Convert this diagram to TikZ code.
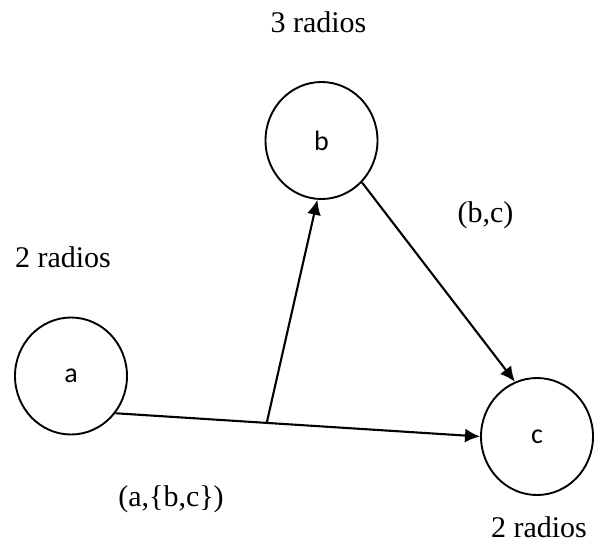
\documentclass[tikz,border=0pt]{standalone}
\usepackage{fontspec}
\setmainfont{Liberation Serif}
\newfontfamily\nodefont{Carlito}
\usetikzlibrary{positioning,arrows.meta,shapes.geometric,calc}

\begin{document}
\begin{tikzpicture}[x=1pt, y=-1pt,
  radio/.style={draw, ellipse, line width=1.9pt, minimum width=112pt,
                minimum height=117pt, inner sep=0pt, font=\nodefont\fontsize{28}{32}\selectfont},
  arr/.style={-{Latex[length=15pt,width=14pt]}, line width=2.1pt},
  lbl/.style={font=\fontsize{30}{36}\selectfont, inner sep=0pt, anchor=base},
]
\useasboundingbox (0,0) rectangle (597,550);

% three stations
\node[radio] (a) at (71,376)    {a};
\node[radio] (b) at (321.5,140.5) {b};
\node[radio] (c) at (537,436.5) {c};

% radio counts
\node[lbl] (rb) at (318.5,32) {3 radios};
\node[lbl] (ra) at (63,267)   {2 radios};
\node[lbl] (rc) at (539,537)  {2 radios};

% link from a, split towards b and c
\coordinate (br) at ($(a.-40)!0.415!(c.west)$);
\draw[arr] (a.-40) -- (c.west);
\draw[arr] (br) -- (b.-94);
\draw[arr] (b.-46) -- (c.112);

% link labels
\node[lbl] (lac) at (171,506) {(a,\{b,c\})};
\node[lbl] (lbc) at (485.5,222) {(b,c)};
\end{tikzpicture}
\end{document}
